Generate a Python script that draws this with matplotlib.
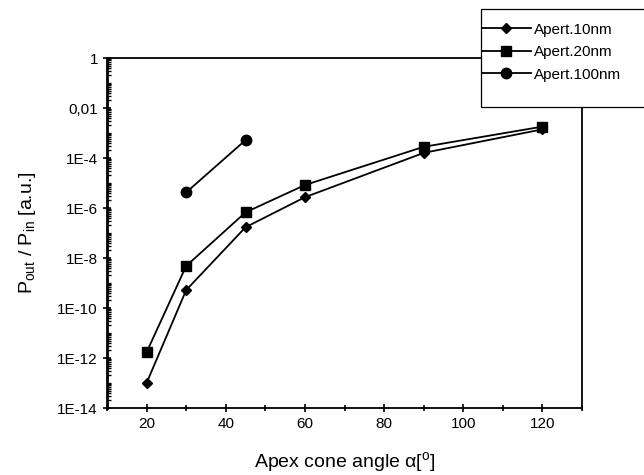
import numpy as np
import matplotlib
matplotlib.use('Agg')
import matplotlib.pyplot as plt
from matplotlib.patches import Rectangle
from matplotlib.ticker import FixedLocator, LogLocator, NullFormatter

plt.rcParams['font.family'] = ['Liberation Sans', 'DejaVu Sans']
plt.rcParams['mathtext.fontset'] = 'custom'
plt.rcParams['mathtext.rm'] = 'Liberation Sans'
plt.rcParams['mathtext.it'] = 'Liberation Sans:italic'

# data
angle_10 = [20, 30, 45, 60, 90, 120]
ratio_10 = [1.0e-13, 5.2e-10, 1.7e-7, 2.7e-6, 1.6e-4, 1.4e-3]
angle_20 = [20, 30, 45, 60, 90, 120]
ratio_20 = [1.7e-12, 4.8e-9, 6.7e-7, 8.3e-6, 2.8e-4, 1.8e-3]
angle_100 = [30, 45]
ratio_100 = [4.2e-6, 5.2e-4]
labels = ['Apert.10nm', 'Apert.20nm', 'Apert.100nm']

ytick_vals = [1, 1e-2, 1e-4, 1e-6, 1e-8, 1e-10, 1e-12, 1e-14]
ytick_txt = ['1', '0,01', '1E-4', '1E-6', '1E-8', '1E-10', '1E-12', '1E-14']
xtick_vals = [20, 40, 60, 80, 100, 120]

fig = plt.figure(figsize=(6.44, 4.75), dpi=100)
ax = fig.add_axes([107/644, 1-408/475, (582-107)/644, (408-58)/475])

l1, = ax.plot(angle_10, ratio_10, '-', color='black', lw=1.3, marker='D', ms=5.5)
l2, = ax.plot(angle_20, ratio_20, '-', color='black', lw=1.3, marker='s', ms=6.5)
l3, = ax.plot(angle_100, ratio_100, '-', color='black', lw=1.3, marker='o', ms=7.5)

ax.set_yscale('log')
ax.set_xlim(10, 130)
ax.set_ylim(1e-14, 1)
ax.set_xticks(xtick_vals)
ax.xaxis.set_minor_locator(FixedLocator([10, 30, 50, 70, 90, 110, 130]))
ax.yaxis.set_major_locator(FixedLocator(ytick_vals))
ax.set_yticklabels(ytick_txt)
ax.yaxis.set_minor_locator(LogLocator(base=10, subs=np.arange(1, 10), numticks=40))
ax.yaxis.set_minor_formatter(NullFormatter())

ax.tick_params(axis='both', which='major', direction='inout', length=6, width=1.2, labelsize=11)
ax.tick_params(axis='y', which='minor', direction='in', length=3, width=1.0)
ax.tick_params(axis='x', which='minor', direction='inout', length=5, width=1.2)
for s in ax.spines.values():
    s.set_linewidth(1.3)
ax.spines['left'].set_linewidth(2)

ax.set_xlabel('Apex cone angle α[$^{\\rm o}$]', fontsize=14, labelpad=14)
ax.set_ylabel(r'P$_{\rm out}$ / P$_{\rm in}$ [a.u.]', fontsize=14, labelpad=14)

# legend box, running off the right edge of the figure
fig.patches.append(Rectangle((481/644, 1-107/475), 0.3, 98/475, transform=fig.transFigure,
                             facecolor='white', edgecolor='black', lw=0.9, zorder=2))
fig.legend([l1, l2, l3], labels, loc='upper left', bbox_to_anchor=(471/644, 1-12/475),
           frameon=False, fontsize=11, handlelength=3.2, handletextpad=0.2,
           labelspacing=0.55, borderpad=0.2)

fig.savefig('out.png', dpi=100)
